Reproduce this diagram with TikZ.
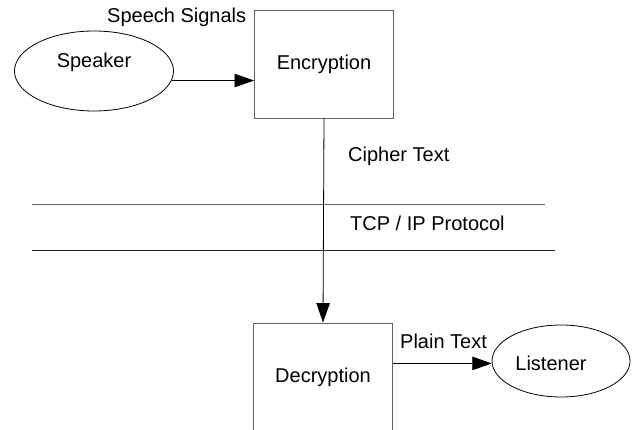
\documentclass[tikz,border=0pt]{standalone}
\usepackage{fontspec}
\setmainfont{Liberation Sans}
\usetikzlibrary{shapes.geometric,arrows.meta}
\definecolor{edgegray}{gray}{0.38}
\tikzset{
  lbl/.style={font=\fontsize{20}{24}\selectfont, inner sep=0pt},
  procbox/.style={draw=edgegray, line width=0.9pt, rectangle, minimum width=139pt, minimum height=108pt, inner sep=0pt, font=\fontsize{20}{24}\selectfont},
  actor/.style={draw=black, line width=0.8pt, ellipse, inner sep=0pt, font=\fontsize{20}{24}\selectfont},
  flow/.style={draw=black, line width=0.8pt, -{Triangle[length=19.5pt,width=13.5pt]}},
  layer/.style={line width=1pt},
}
\begin{document}
\begin{tikzpicture}[x=1pt,y=-1pt]
\useasboundingbox (0,0) rectangle (633,430);
\clip (0,0) rectangle (633,430);
% nodes
\node[actor, minimum width=159pt, minimum height=80pt] (speaker) at (94,71) {};
\node[lbl, anchor=base] (speakertxt) at (94,68) {Speaker};
\node[procbox] (enc) at (324,64) {Encryption};
\node[procbox] (dec) at (323,377) {Decryption};
\node[actor, minimum width=138pt, minimum height=72pt] (listener) at (561,361) {};
\node[lbl, anchor=base] (listenertxt) at (551,371) {Listener};
% labels
\node[lbl, anchor=base west] (speech) at (107,23) {Speech Signals};
\node[lbl, anchor=base west] (cipher) at (348,162) {Cipher Text};
\node[lbl, anchor=base west] (tcp) at (350,231) {TCP / IP Protocol};
\node[lbl, anchor=base west] (plain) at (400,349) {Plain Text};
% protocol layer lines
\coordinate (l1a) at (32,205);
\coordinate (l1b) at (545,205);
\coordinate (l2a) at (32,251);
\coordinate (l2b) at (555,251);
\draw[layer, draw=edgegray] (l1a) -- (l1b);
\draw[layer, draw=black!85] (l2a) -- (l2b);
% connectors
\draw[flow] (speaker.-7.4) -- (speaker.-7.4 -| enc.west);
\draw[flow] (enc.south) -- (dec.north);
\draw[flow] (listener.182) ++(-100,0) coordinate (plainstart) (plainstart -| dec.east) -- (listener.182);
\end{tikzpicture}
\end{document}
